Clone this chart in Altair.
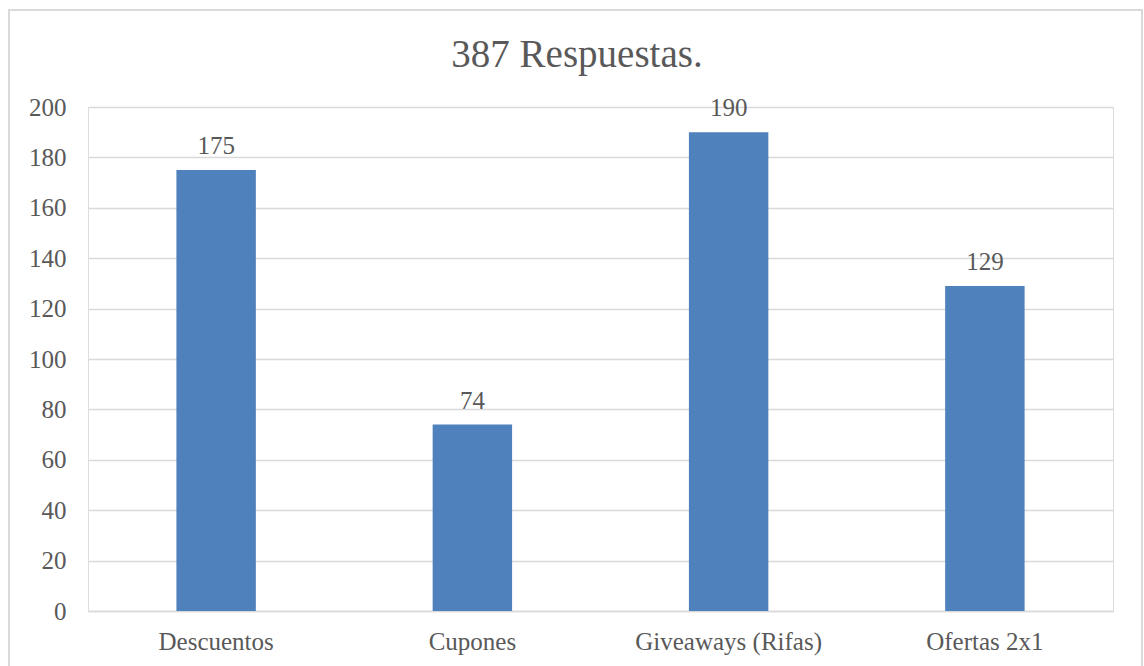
import altair as alt
import pandas as pd

# Survey results: number of answers per promotion type
categorias = ["Descuentos", "Cupones", "Giveaways (Rifas)", "Ofertas 2x1"]
respuestas = [175, 74, 190, 129]
ticks_y = [0, 20, 40, 60, 80, 100, 120, 140, 160, 180, 200]
titulo = "387 Respuestas."

df = pd.DataFrame({"categoria": categorias, "respuestas": respuestas})
uno = pd.DataFrame({"k": [0]})

FONT = "Liberation Serif"
GRIS = "#595959"
GRID = "#d9d9d9"
AZUL = "#4f81bd"

x = alt.X(
    "categoria:N",
    sort=categorias,
    title=None,
    scale=alt.Scale(paddingInner=0, paddingOuter=0),
    axis=alt.Axis(
        labelAngle=0,
        labelFont=FONT,
        labelFontSize=25,
        labelColor=GRIS,
        labelPadding=18,
        labelLimit=400,
        labelOverlap=False,
        ticks=False,
        grid=False,
        domain=True,
        domainColor=GRID,
        domainWidth=1.5,
    ),
)
y = alt.Y(
    "respuestas:Q",
    title=None,
    scale=alt.Scale(domain=[0, 200], nice=False),
    axis=alt.Axis(
        values=ticks_y,
        labelFont=FONT,
        labelFontSize=25,
        labelColor=GRIS,
        labelPadding=22,
        ticks=False,
        domain=False,
        grid=True,
        gridColor=GRID,
        gridWidth=1.5,
    ),
)

barras = alt.Chart(df).mark_bar(color=AZUL, width=alt.RelativeBandSize(0.31)).encode(x=x, y=y)

etiquetas = alt.Chart(df).mark_text(
    font=FONT, fontSize=25, color=GRIS, baseline="alphabetic", dy=-16
).encode(x=x, y=y, text="respuestas:Q")

# Chart heading, centred over the whole frame
encabezado = alt.Chart(uno).mark_text(
    font=FONT, fontSize=39, color=GRIS, align="center", baseline="alphabetic"
).encode(x=alt.value(489), y=alt.value(-40), text=alt.value(titulo))

# Light frame around the whole chart
marco = alt.Chart(uno).mark_rect(
    filled=False, stroke=GRID, strokeWidth=2
).encode(
    x=alt.value(-79), x2=alt.value(1054), y=alt.value(-97), y2=alt.value(580)
)

chart = (
    alt.layer(barras, etiquetas, encabezado, marco)
    .properties(
        width=1025,
        height=504,
        autosize=alt.AutoSizeParams(type="none"),
        padding={"left": 88, "top": 107, "right": 31, "bottom": 55},
    )
    .configure_view(stroke="transparent", strokeWidth=0)
    .configure(background="white")
)

chart.save("out.html", embed_options={"renderer": "svg", "actions": False})
